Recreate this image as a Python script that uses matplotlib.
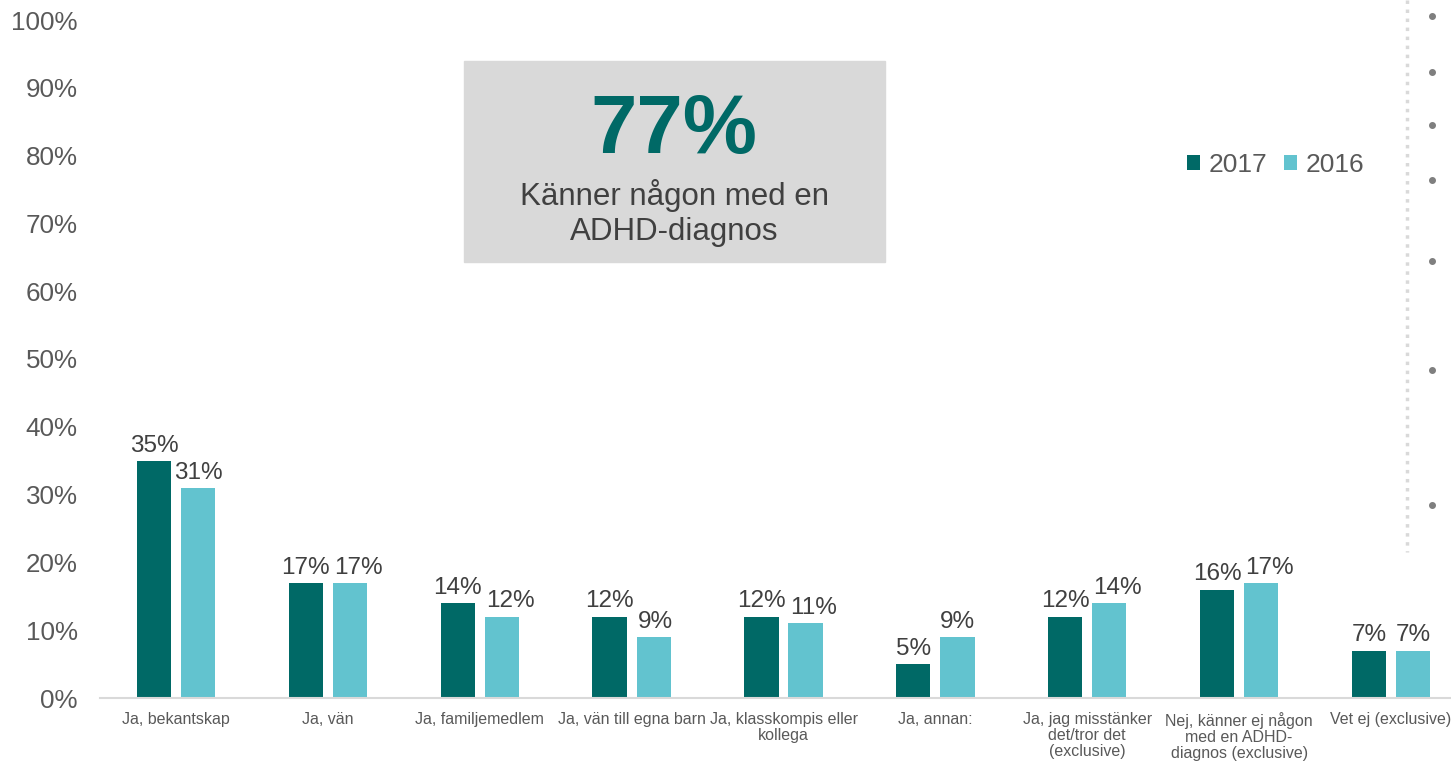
import matplotlib
matplotlib.use("Agg")
import matplotlib.pyplot as plt
from matplotlib.patches import Rectangle
from matplotlib.lines import Line2D
import numpy as np

plt.rcParams["font.family"] = ["Liberation Sans", "DejaVu Sans"]

categories = [
    "Ja, bekantskap",
    "Ja, vän",
    "Ja, familjemedlem",
    "Ja, vän till egna barn",
    "Ja, klasskompis eller\nkollega",
    "Ja, annan:",
    "Ja, jag misstänker\ndet/tror det\n(exclusive)",
    "Nej, känner ej någon\nmed en ADHD-\ndiagnos (exclusive)",
    "Vet ej (exclusive)",
]
values_2017 = [35, 17, 14, 12, 12, 5, 12, 16, 7]
values_2016 = [31, 17, 12, 9, 11, 9, 14, 17, 7]
y_ticks = list(range(0, 101, 10))

headline = "77%"
headline_sub = "Känner någon med en\nADHD-diagnos"

c2017 = "#006966"
c2016 = "#62C3CF"
text_grey = "#595959"

W, H = 1451, 763
fig = plt.figure(figsize=(W / 100, H / 100), dpi=100)
ax = fig.add_axes([100 / W, 65 / H, 1367 / W, 678 / H])

x = np.arange(len(categories))
bw = 0.225
off = 0.145
b1 = ax.bar(x - off, values_2017, bw, color=c2017, label="2017")
b2 = ax.bar(x + off, values_2016, bw, color=c2016, label="2016")

ax.set_xlim(-0.5, len(categories) - 0.5)
ax.set_ylim(0, 100)

labels = {}
for key, bars, vals in (("a", b1, values_2017), ("b", b2, values_2016)):
    labels[key] = []
    for rect, v in zip(bars, vals):
        t = ax.annotate(f"{v}%", (rect.get_x() + rect.get_width() / 2, v),
                        xytext=(0, 3), textcoords="offset points",
                        ha="center", va="bottom", fontsize=17.5, color="#404040")
        labels[key].append(t)

ax.set_yticks(y_ticks)
ax.set_yticklabels([f"{t}%" for t in y_ticks], fontsize=18.7, color=text_grey)
ax.set_xticks(x)
ax.set_xticklabels(categories, fontsize=11.5, color=text_grey, linespacing=1.1)
ax.tick_params(axis="both", length=0)
ax.tick_params(axis="y", pad=16)
ax.tick_params(axis="x", pad=10)
for side in ("top", "right", "left"):
    ax.spines[side].set_visible(False)
ax.spines["bottom"].set_color("#D9D9D9")
ax.spines["bottom"].set_linewidth(1.5)

# nudge 2016 labels right when they collide with the 2017 label (like Excel does)
fig.canvas.draw()
r = fig.canvas.get_renderer()
for ta, tb, va_, vb_ in zip(labels["a"], labels["b"], values_2017, values_2016):
    ea = ta.get_window_extent(r)
    eb = tb.get_window_extent(r)
    dy = abs(ax.transData.transform((0, va_))[1] - ax.transData.transform((0, vb_))[1])
    if dy < 24 and eb.x0 < ea.x1 + 4:
        shift = ea.x1 + 4 - eb.x0
        tb.set_position((shift * 72 / 100, 3))

# highlight box
fig.patches.append(Rectangle((464 / W, 1 - 262 / H), 421 / W, 201 / H,
                             transform=fig.transFigure, color="#D9D9D9", zorder=0))
fig.text(674 / W, 1 - 131 / H, headline, ha="center", va="center",
         fontsize=60, fontweight="bold", color=c2017)
fig.text(674 / W, 1 - 213 / H, headline_sub, ha="center", va="center",
         fontsize=22.5, color="#404040", linespacing=1.25)

# legend
leg = ax.legend(loc="upper left", bbox_to_anchor=(1174 / W, 1 - 140 / H),
                bbox_transform=fig.transFigure, ncol=2, frameon=False,
                fontsize=19, handlelength=0.5, handleheight=0.5,
                handletextpad=0.3, columnspacing=0.65, borderpad=0)
for t in leg.get_texts():
    t.set_color(text_grey)

# decorative dotted divider and dots at right edge
fig.add_artist(Line2D([1407 / W, 1407 / W], [1 - 0 / H, 1 - 552 / H],
                      transform=fig.transFigure, color="#D9D9D9",
                      linestyle=(0, (1, 1.6)), linewidth=2.5))
for yy in (16, 72, 125, 180, 261, 370, 505):
    fig.add_artist(Line2D([1432 / W], [1 - yy / H], transform=fig.transFigure,
                          marker="o", markersize=4, color="#7F7F7F",
                          linestyle="none"))

fig.savefig("out.png", dpi=100)
